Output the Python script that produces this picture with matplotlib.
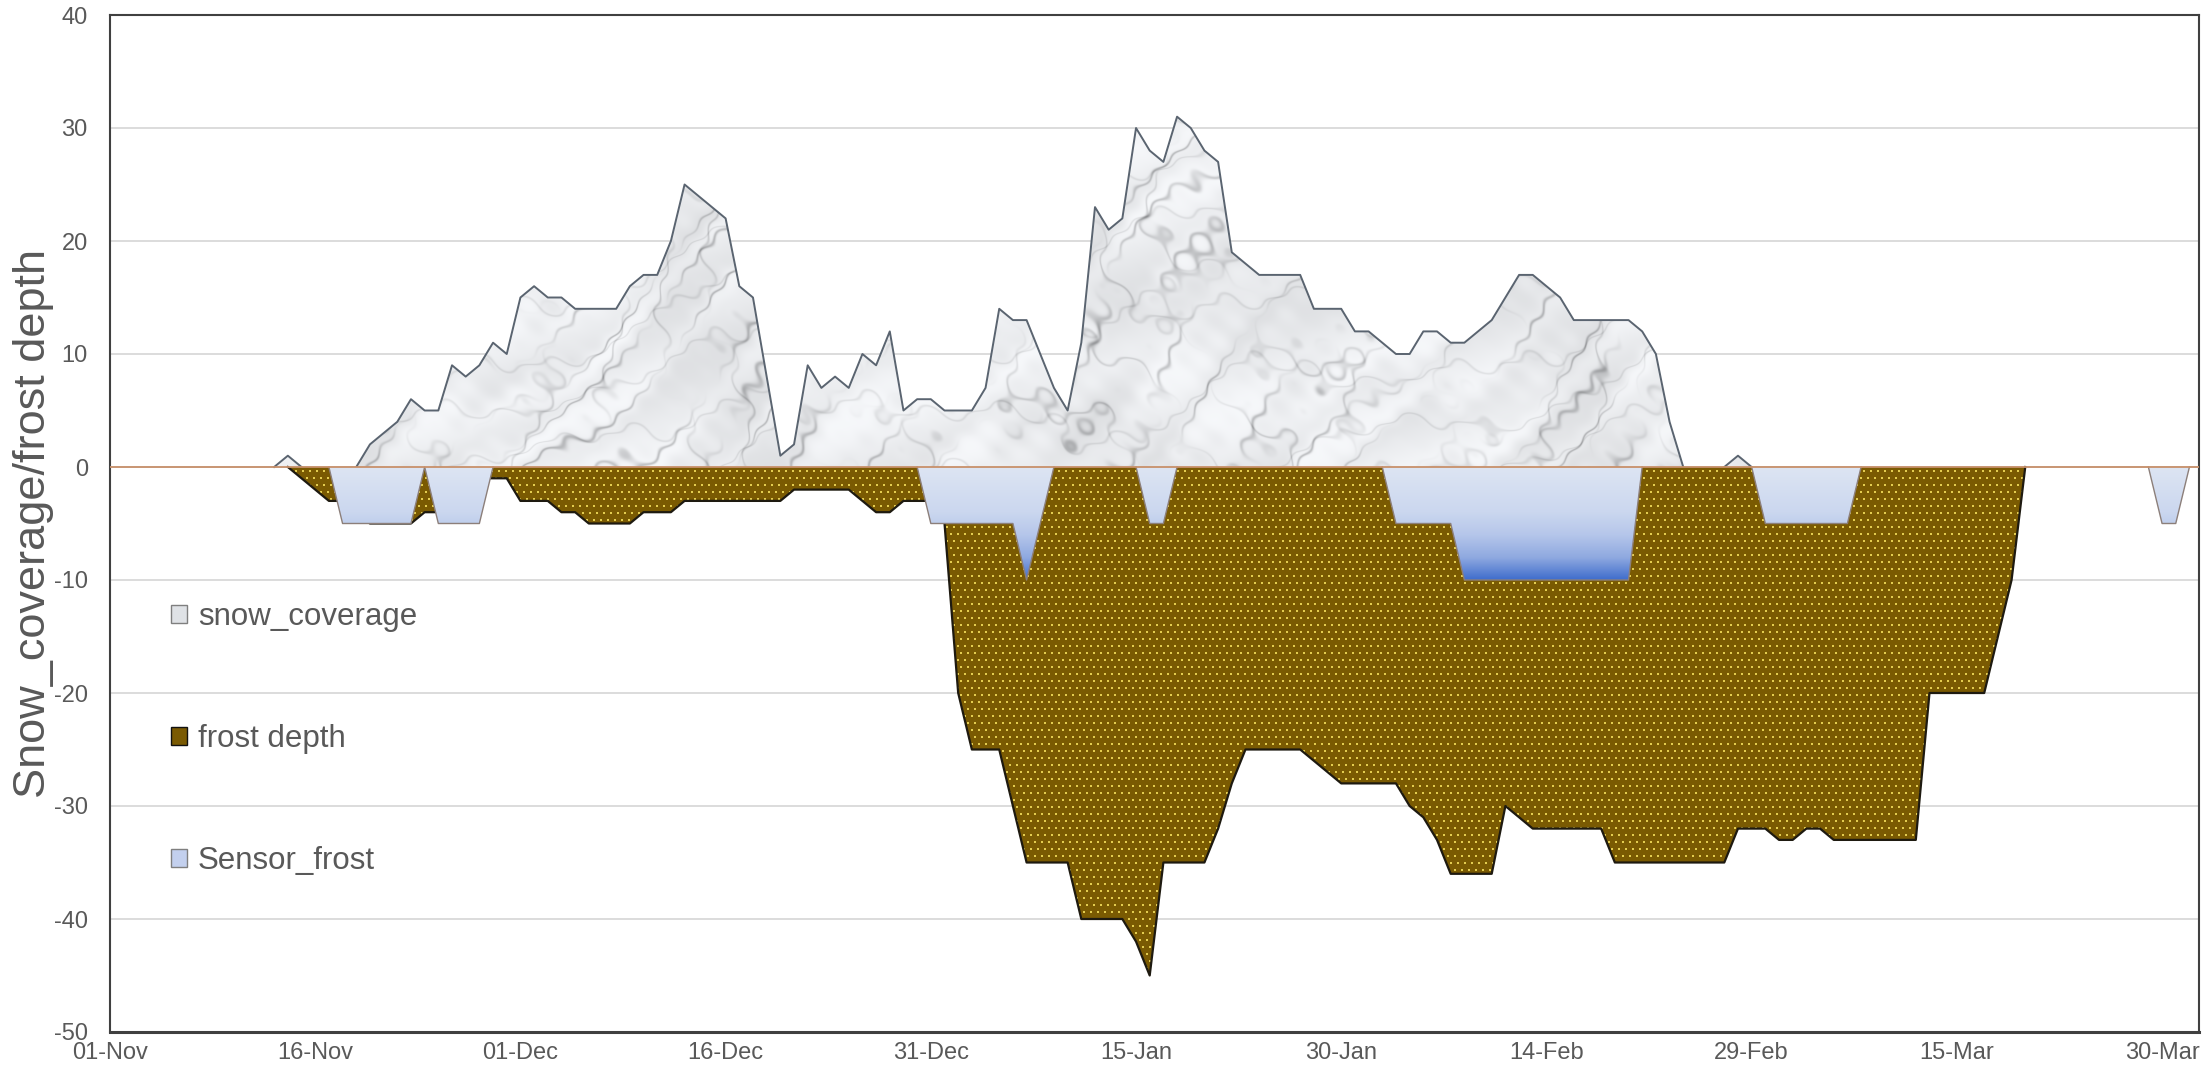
import numpy as np
import matplotlib
matplotlib.use("Agg")
import matplotlib.pyplot as plt
import matplotlib.dates as mdates
from matplotlib.patches import PathPatch, Patch
from matplotlib.path import Path
from matplotlib.colors import to_rgb
from datetime import datetime, timedelta

plt.rcParams['font.family'] = ['Liberation Sans', 'DejaVu Sans']
plt.rcParams['axes.unicode_minus'] = False

# daily readings, 01-Nov-2019 .. 01-Apr-2020
start = datetime(2019, 11, 1)
dates = [start + timedelta(days=i) for i in range(153)]

snow_coverage = [
    0, 0, 0, 0, 0, 0, 0, 0, 0, 0,
    0, 0, 0, 1, 0, 0, 0, 0, 0, 2,
    3, 4, 6, 5, 5, 9, 8, 9, 11, 10,
    15, 16, 15, 15, 14, 14, 14, 14, 16, 17,
    17, 20, 25, 24, 23, 22, 16, 15, 8, 1,
    2, 9, 7, 8, 7, 10, 9, 12, 5, 6,
    6, 5, 5, 5, 7, 14, 13, 13, 10, 7,
    5, 11, 23, 21, 22, 30, 28, 27, 31, 30,
    28, 27, 19, 18, 17, 17, 17, 17, 14, 14,
    14, 12, 12, 11, 10, 10, 12, 12, 11, 11,
    12, 13, 15, 17, 17, 16, 15, 13, 13, 13,
    13, 13, 12, 10, 4, 0, 0, 0, 0, 1,
    0, 0, 0, 0, 0, 0, 0, 0, 0, 0,
    0, 0, 0, 0, 0, 0, 0, 0, 0, 0,
    0, 0, 0, 0, 0, 0, 0, 0, 0, 0,
    0, 0, 0,
]

frost_depth = [
    0, 0, 0, 0, 0, 0, 0, 0, 0, 0,
    0, 0, 0, 0, -1, -2, -3, -3, -4, -5,
    -5, -5, -5, -4, -4, -3, -2, -1, -1, -1,
    -3, -3, -3, -4, -4, -5, -5, -5, -5, -4,
    -4, -4, -3, -3, -3, -3, -3, -3, -3, -3,
    -2, -2, -2, -2, -2, -3, -4, -4, -3, -3,
    -3, -5, -20, -25, -25, -25, -30, -35, -35, -35,
    -35, -40, -40, -40, -40, -42, -45, -35, -35, -35,
    -35, -32, -28, -25, -25, -25, -25, -25, -26, -27,
    -28, -28, -28, -28, -28, -30, -31, -33, -36, -36,
    -36, -36, -30, -31, -32, -32, -32, -32, -32, -32,
    -35, -35, -35, -35, -35, -35, -35, -35, -35, -32,
    -32, -32, -33, -33, -32, -32, -33, -33, -33, -33,
    -33, -33, -33, -20, -20, -20, -20, -20, -15, -10,
    0, 0, 0, 0, 0, 0, 0, 0, 0, 0,
    0, 0, 0,
]

sensor_frost = [
    0, 0, 0, 0, 0, 0, 0, 0, 0, 0,
    0, 0, 0, 0, 0, 0, 0, -5, -5, -5,
    -5, -5, -5, 0, -5, -5, -5, -5, 0, 0,
    0, 0, 0, 0, 0, 0, 0, 0, 0, 0,
    0, 0, 0, 0, 0, 0, 0, 0, 0, 0,
    0, 0, 0, 0, 0, 0, 0, 0, 0, 0,
    -5, -5, -5, -5, -5, -5, -5, -10, -5, 0,
    0, 0, 0, 0, 0, 0, -5, -5, 0, 0,
    0, 0, 0, 0, 0, 0, 0, 0, 0, 0,
    0, 0, 0, 0, -5, -5, -5, -5, -5, -10,
    -10, -10, -10, -10, -10, -10, -10, -10, -10, -10,
    -10, -10, 0, 0, 0, 0, 0, 0, 0, 0,
    0, -5, -5, -5, -5, -5, -5, -5, 0, 0,
    0, 0, 0, 0, 0, 0, 0, 0, 0, 0,
    0, 0, 0, 0, 0, 0, 0, 0, 0, 0,
    -5, -5, 0,
]

labels = ['snow_coverage', 'frost depth', 'Sensor_frost']
gray_text = '#595959'

fig = plt.figure(figsize=(22.09, 10.74), dpi=100)
ax = fig.add_axes([110 / 2209, 42 / 1074, 2089 / 2209, 1017 / 1074])

x = mdates.date2num(dates)
x0 = mdates.date2num(start)
xlim = (x0, x0 + 152.7)
ylim = (-50, 40)
ext = (xlim[0], xlim[1], ylim[0], ylim[1])

# pixel grid of the plot area, used for the fill textures
H, W = 1017, 2089
yy, xx = np.mgrid[0:H, 0:W].astype(float)
yval = ylim[1] - (np.arange(H) + 0.5) * (ylim[1] - ylim[0]) / H

# marble look for the snow: many thin gray veins on off-white
turb = (np.sin(xx * 0.006 + yy * 0.009)
        + 0.6 * np.sin(xx * 0.014 - yy * 0.011 + 1.7)
        + 0.35 * np.sin(xx * 0.031 + yy * 0.027 + 0.4)
        + 0.25 * np.sin(xx * 0.09 + yy * 0.07 + 0.9)
        + 0.12 * np.sin(xx * 0.16 - yy * 0.19 + 2.2))
t1 = (xx + yy) * 0.045 + 2.2 * turb
d1 = np.exp(-(np.sin(t1) / 0.18) ** 2) * (0.5 + 0.5 * np.sin((xx - yy) * 0.02 + 2 * turb))
t2 = (xx - yy * 0.4) * 0.035 + 1.8 * turb + 1.0
d2 = np.exp(-(np.sin(t2) / 0.12) ** 2) * (0.5 + 0.5 * np.sin((xx + yy) * 0.025 + turb))
t3 = (xx * 0.2 + yy) * 0.05 + 1.5 * turb + 2.0
d3 = np.exp(-(np.sin(t3) / 0.1) ** 2)
blot = 0.5 + 0.5 * np.sin(xx * 0.01 - yy * 0.015 + 1.8 * turb)
mott = np.sin(xx * 0.05 + yy * 0.07 + 3 * turb)
g = 0.945 - 0.05 * blot - 0.2 * d1 - 0.13 * d2 - 0.07 * d3 + 0.02 * mott
marble = np.dstack([g, g + 0.006, g + 0.016]).clip(0, 1)

# dotted brown for the frost
frost_rgb = np.ones((H, W, 3)) * np.array(to_rgb('#7a5a02'))
dot = np.array(to_rgb('#e3cc50'))
for r in range(0, H, 7):
    off = 0 if (r // 7) % 2 == 0 else 3
    frost_rgb[r:r + 2, off::7] = dot
    frost_rgb[r:r + 2, off + 1::7] = dot

# vertical gradient for the sensor frost
stops_y = [-10, -8, -6, -4, 0]
stops_c = [to_rgb(c) for c in ['#3e6ccc', '#8fa9e0', '#b5c6ea', '#cbd7ef', '#dde5f3']]
grad = np.zeros((H, 3))
for k in range(3):
    grad[:, k] = np.interp(yval, stops_y, [c[k] for c in stops_c])
sensor_rgb = np.repeat(grad[:, None, :], W, axis=1)


def textured_area(values, image, z):
    poly = ax.fill_between(x, 0, values, facecolor='none', edgecolor='none', zorder=z)
    path = Path.make_compound_path(*poly.get_paths())
    clip = PathPatch(path, transform=ax.transData, facecolor='none', edgecolor='none')
    im = ax.imshow(image, extent=ext, origin='upper', aspect='auto',
                   interpolation='nearest', zorder=z)
    im.set_clip_path(clip)


def outline(values):
    v = np.asarray(values, float)
    nz = v != 0
    keep = nz | np.roll(nz, 1) | np.roll(nz, -1)
    return np.where(keep, v, np.nan)


textured_area(snow_coverage, marble, 2)
ax.plot(x, outline(snow_coverage), color='#5a6470', lw=1.4, zorder=2.5)
textured_area(frost_depth, frost_rgb, 3)
ax.plot(x, outline(frost_depth), color='#1e1a10', lw=1.6, zorder=3.5)
textured_area(sensor_frost, sensor_rgb, 4)
ax.plot(x, outline(sensor_frost), color='#8c7f7a', lw=1.0, zorder=4.5)
ax.axhline(0, color='#c8906a', lw=1.3, zorder=6)

ax.set_xlim(*xlim)
ax.set_ylim(*ylim)
ax.set_yticks(range(-50, 41, 10))
ax.yaxis.grid(True, color='#d9d9d9', lw=1.3)
ax.set_axisbelow(True)

ticks = [x0 + 15 * k for k in range(11)]
ax.set_xticks(ticks)
ax.set_xticklabels([mdates.num2date(t).strftime('%d-%b') for t in ticks])
ax.tick_params(axis='both', length=0, labelsize=17, colors=gray_text)
ax.tick_params(axis='y', pad=16)
ax.tick_params(axis='x', pad=7)

for s in ax.spines.values():
    s.set_color('#404040')
    s.set_linewidth(1.5)
ax.spines['bottom'].set_linewidth(2.2)

ax.set_ylabel('Snow_coverage/frost depth', fontsize=32.5, color=gray_text)
ax.yaxis.set_label_coords(-0.0268, 0.5)

handles = [Patch(facecolor='#dfe2e6', edgecolor='#7f7f7f'),
           Patch(facecolor='#7a5a02', edgecolor='#111111'),
           Patch(facecolor='#c3d0ee', edgecolor='#7f7f7f')]
ax.legend(handles, labels, loc='upper left', bbox_to_anchor=(0.029, 0.423),
          frameon=False, fontsize=22.5, labelspacing=2.95, handlelength=0.52,
          handleheight=0.52, handletextpad=0.35, borderaxespad=0, borderpad=0,
          labelcolor=gray_text)

fig.savefig('out.png', dpi=100)
